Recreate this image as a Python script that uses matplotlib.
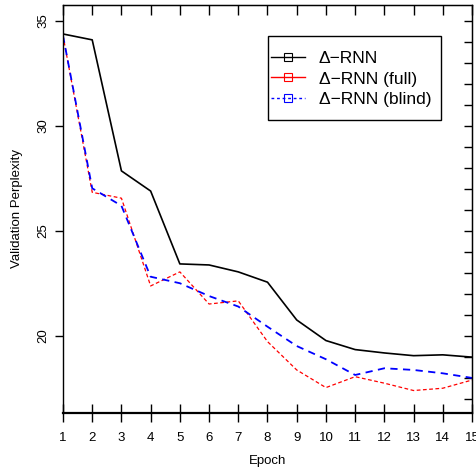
import numpy as np
import matplotlib
matplotlib.use("Agg")
import matplotlib.pyplot as plt
from matplotlib.lines import Line2D
from matplotlib.patches import Rectangle

plt.rcParams['font.family'] = ['Liberation Sans', 'DejaVu Sans']

epochs = np.arange(1, 16)
drnn = [34.38, 34.1, 27.86, 26.9, 23.43, 23.38, 23.05, 22.56, 20.76, 19.78,
        19.35, 19.19, 19.06, 19.1, 18.99]
drnn_full = [34.3, 26.84, 26.56, 22.38, 23.05, 21.52, 21.67, 19.73, 18.38, 17.54,
             18.06, 17.75, 17.4, 17.51, 17.9]
drnn_blind = [34.3, 27.03, 26.2, 22.82, 22.51, 21.9, 21.4, 20.44, 19.52, 18.89,
              18.14, 18.46, 18.38, 18.22, 18.0]
labels = ['\u0394\u2212RNN', '\u0394\u2212RNN (full)', '\u0394\u2212RNN (blind)']

W, H = 477, 472
fig = plt.figure(figsize=(W / 100, H / 100), dpi=100)
ax = fig.add_axes([63 / W, 1 - 413 / H, (472 - 63) / W, (413 - 5) / H])

ax.plot(epochs, drnn, color='black', lw=1.2)
ax.plot(epochs, drnn_full, color='red', lw=0.9, dashes=(3, 2))
ax.plot(epochs, drnn_blind, color='blue', lw=1.3, dashes=(4, 3))

ax.set_xlim(1, 15)
ax.set_ylim(16.33, 35.76)

ax.set_xticks(epochs)
ax.set_yticks([20, 25, 30, 35])
ax.tick_params(axis='x', direction='inout', length=13, width=1, labelsize=9.5, pad=7)
ax.tick_params(axis='y', direction='out', length=6, width=1, labelsize=9.5, pad=4)
for t in ax.get_yticklabels():
    t.set_rotation(90)
    t.set_va('center')

top = ax.secondary_xaxis('top')
top.set_xticks(epochs)
top.tick_params(direction='in', length=7, width=1, labeltop=False)
right = ax.secondary_yaxis('right')
right.set_yticks(np.arange(17, 36))
right.tick_params(direction='in', length=6, width=1, labelright=False)

for s in ax.spines.values():
    s.set_linewidth(1)
ax.spines['bottom'].set_linewidth(1.6)

ax.set_xlabel('Epoch', fontsize=9.5, labelpad=8)
ax.set_ylabel('Validation Perplexity', fontsize=9.5, labelpad=10)

# legend box drawn separately (R-style tight frame)
fig.patches.append(Rectangle((268 / W, 1 - 120 / H), (441 - 268) / W, (120 - 36) / H,
                             transform=fig.transFigure, fill=False, ec='black', lw=1, zorder=5))

handles = [
    Line2D([], [], color='black', lw=1, marker='s', mfc='none', mec='black', ms=6, mew=0.8),
    Line2D([], [], color='red', lw=1, marker='s', mfc='none', mec='red', ms=6, mew=0.8),
    Line2D([], [], color='blue', lw=1, ls=(0, (2, 2)), marker='s', mfc='none', mec='blue', ms=6, mew=0.8),
]
leg = fig.legend(handles, labels, loc='upper left', bbox_to_anchor=(271 / W, 1 - 51 / H),
                 fontsize=12.5, frameon=False, handlelength=1.95, handletextpad=0.8,
                 labelspacing=0.3, borderpad=0, borderaxespad=0)

fig.savefig('out.png', dpi=100)
